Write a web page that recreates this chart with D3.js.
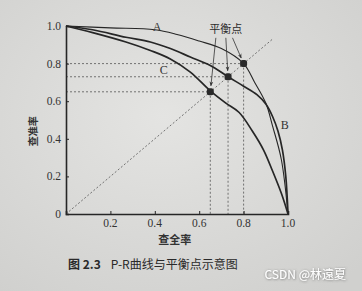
<!DOCTYPE html>
<html>
<head>
<meta charset="utf-8">
<script src="https://cdn.jsdelivr.net/npm/d3@7"></script>
<style>
  body { margin: 0; background: #d8d8d6; }
  svg { display: block; }
</style>
</head>
<body>
<div id="chart"></div>
<script>
// recall / precision readings for the three P-R curves
const recallA = [0, 0.2, 0.4, 0.5, 0.6, 0.7, 0.8, 0.85, 0.9, 0.93, 0.97, 1.0];
const precA   = [1, 0.99, 0.98, 0.955, 0.92, 0.88, 0.8, 0.7, 0.59, 0.47, 0.29, 0];

const recallB = [0, 0.12, 0.27, 0.38, 0.47, 0.56, 0.65, 0.73, 0.8, 0.86, 0.9, 0.93, 0.955, 0.975, 0.99, 1.0];
const precB   = [1, 0.98, 0.94, 0.915, 0.88, 0.835, 0.79, 0.73, 0.68, 0.635, 0.585, 0.52, 0.44, 0.34, 0.2, 0];

const recallC = [0, 0.12, 0.27, 0.38, 0.47, 0.56, 0.65, 0.72, 0.78, 0.84, 0.89, 0.93, 0.97, 1.0];
const precC   = [1, 0.965, 0.915, 0.87, 0.825, 0.755, 0.655, 0.59, 0.54, 0.44, 0.34, 0.23, 0.11, 0];

const breakEven = [0.8, 0.73, 0.65];   // BEP of A, B, C
const xTicks = [0.2, 0.4, 0.6, 0.8, 1.0];
const yTicks = [0, 0.2, 0.4, 0.6, 0.8, 1.0];
const curveLabels = ["A", "B", "C"];
const labelPos = [[0.41, 0.995], [0.985, 0.475], [0.44, 0.765]];

const width = 362;
const height = 291;
const ink = "#262626";

const svg = d3.select("#chart")
  .append("svg")
  .attr("width", width)
  .attr("height", height);

const defs = svg.append("defs");

// paper-like backdrop
const grad = defs.append("radialGradient")
  .attr("id", "paper").attr("cx", "45%").attr("cy", "40%").attr("r", "75%");
grad.append("stop").attr("offset", "0%").attr("stop-color", "#e4e4e2");
grad.append("stop").attr("offset", "100%").attr("stop-color", "#d0d0ce");
svg.append("rect").attr("width", width).attr("height", height).attr("fill", "url(#paper)");

const x = d3.scaleLinear().domain([0, 1]).range([66, 288]);
const y = d3.scaleLinear().domain([0, 1]).range([214, 26]);

const dash = g => g.attr("stroke", "#555").attr("stroke-width", 0.8)
  .attr("stroke-dasharray", "2,2").attr("fill", "none");

// diagonal
svg.append("line")
  .attr("x1", x(0)).attr("y1", y(0))
  .attr("x2", x(0.93)).attr("y2", y(0.93))
  .call(dash);

// guide lines to each break-even point
breakEven.forEach(v => {
  svg.append("line").attr("x1", x(0)).attr("y1", y(v)).attr("x2", x(v)).attr("y2", y(v)).call(dash);
  svg.append("line").attr("x1", x(v)).attr("y1", y(v)).attr("x2", x(v)).attr("y2", y(0)).call(dash);
});

// curves
const line = d3.line()
  .x(d => x(d[0]))
  .y(d => y(d[1]))
  .curve(d3.curveCatmullRom.alpha(0.5));

const curves = [
  { r: recallA, p: precA, w: 1.1 },
  { r: recallB, p: precB, w: 1.7 },
  { r: recallC, p: precC, w: 1.7 }
];
curves.forEach(c => {
  svg.append("path")
    .datum(d3.zip(c.r, c.p))
    .attr("fill", "none")
    .attr("stroke", ink)
    .attr("stroke-width", c.w)
    .attr("d", line);
});

// axes
svg.append("g")
  .attr("transform", `translate(0,${y(0)})`)
  .call(d3.axisTop(x).tickValues(xTicks).tickSize(3).tickFormat(d3.format(".1f")))
  .call(g => g.selectAll("text").remove());
svg.append("g")
  .attr("transform", `translate(${x(0)},0)`)
  .call(d3.axisRight(y).tickValues(yTicks.slice(1)).tickSize(3).tickFormat(d3.format(".1f")))
  .call(g => g.selectAll("text").remove());
svg.selectAll(".domain").attr("stroke", ink).attr("stroke-width", 1.6);
svg.selectAll(".tick line").attr("stroke", ink);

svg.append("g").selectAll("text")
  .data(xTicks)
  .join("text")
  .attr("x", d => x(d))
  .attr("y", y(0) + 13)
  .attr("text-anchor", "middle")
  .attr("font-family", "Liberation Serif, serif")
  .attr("font-size", 11.5)
  .attr("fill", "#333")
  .text(d3.format(".1f"));

svg.append("g").selectAll("text")
  .data(yTicks)
  .join("text")
  .attr("x", x(0) - 5)
  .attr("y", d => y(d) + 4)
  .attr("text-anchor", "end")
  .attr("font-family", "Liberation Serif, serif")
  .attr("font-size", 11.5)
  .attr("fill", "#333")
  .text(d => d === 0 ? "0" : d3.format(".1f")(d));

// break-even markers
svg.append("g").selectAll("rect")
  .data(breakEven)
  .join("rect")
  .attr("x", d => x(d) - 3.5)
  .attr("y", d => y(d) - 3.5)
  .attr("width", 7).attr("height", 7)
  .attr("rx", 2.5)
  .attr("fill", "#2a2a2a");

// curve names
svg.append("g").selectAll("text")
  .data(curveLabels)
  .join("text")
  .attr("x", (d, i) => x(labelPos[i][0]))
  .attr("y", (d, i) => y(labelPos[i][1]) + 4)
  .attr("text-anchor", "middle")
  .attr("font-family", "Liberation Serif, serif")
  .attr("font-size", 12)
  .attr("fill", "#333")
  .text(d => d);

// "平衡点" with arrows
const noteAt = [0.72, 0.985];
svg.append("text")
  .attr("x", x(noteAt[0]))
  .attr("y", y(noteAt[1]) + 4)
  .attr("text-anchor", "middle")
  .attr("font-family", "Noto Sans CJK SC")
  .attr("font-size", 11)
  .attr("fill", "#2a2a2a")
  .text("平衡点");

defs.append("marker")
  .attr("id", "arr").attr("viewBox", "0 0 10 10")
  .attr("refX", 9).attr("refY", 5)
  .attr("markerWidth", 6).attr("markerHeight", 6)
  .attr("orient", "auto")
  .append("path").attr("d", "M0,1 L10,5 L0,9 L3,5 Z").attr("fill", "#333");

const arrowStart = [-0.045, 0.0, 0.03];
breakEven.slice().reverse().forEach((v, i) => {
  const x0 = x(noteAt[0] + arrowStart[i]);
  const y0 = y(noteAt[1]) + 9;
  const x1 = x(v), y1 = y(v);
  const a = Math.atan2(y1 - y0, x1 - x0);
  svg.append("line")
    .attr("x1", x0).attr("y1", y0)
    .attr("x2", x1 - Math.cos(a) * 6).attr("y2", y1 - Math.sin(a) * 6)
    .attr("stroke", "#333").attr("stroke-width", 0.8)
    .attr("marker-end", "url(#arr)");
});

// axis titles
svg.append("text")
  .attr("transform", `translate(${x(0) - 29},${y(0.44)}) rotate(-90)`)
  .attr("text-anchor", "middle")
  .attr("font-family", "Noto Sans CJK SC")
  .attr("font-size", 10)
  .attr("font-weight", "bold")
  .attr("fill", "#333")
  .text("查准率");

svg.append("text")
  .attr("x", x(0.49))
  .attr("y", y(0) + 30)
  .attr("text-anchor", "middle")
  .attr("font-family", "Noto Sans CJK SC")
  .attr("font-size", 11)
  .attr("font-weight", "bold")
  .attr("fill", "#333")
  .text("查全率");

// caption
const cap = svg.append("text")
  .attr("x", 68)
  .attr("y", 269)
  .attr("font-family", "Noto Sans CJK SC")
  .attr("font-size", 12)
  .attr("fill", "#2a2a2a");
cap.append("tspan").attr("font-weight", "bold").text("图 2.3");
cap.append("tspan").attr("dx", 10).text("P-R曲线与平衡点示意图");

// watermark
const shadow = defs.append("filter").attr("id", "wm")
  .attr("x", "-10%").attr("y", "-30%").attr("width", "120%").attr("height", "160%");
shadow.append("feDropShadow")
  .attr("dx", 0.5).attr("dy", 0.5).attr("stdDeviation", 0.8)
  .attr("flood-color", "#555").attr("flood-opacity", 0.8);

svg.append("text")
  .attr("x", 346)
  .attr("y", 279)
  .attr("text-anchor", "end")
  .attr("font-family", "Noto Sans CJK SC")
  .attr("font-size", 12)
  .attr("fill", "#fff")
  .attr("filter", "url(#wm)")
  .text("CSDN @林遠夏");
</script>
</body>
</html>
